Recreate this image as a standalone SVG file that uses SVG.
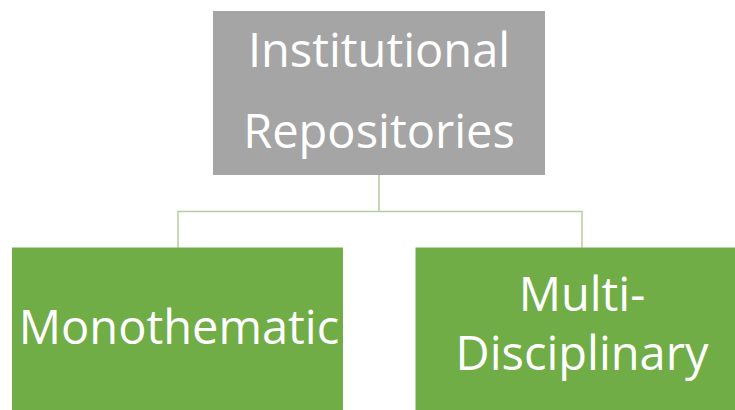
<svg xmlns="http://www.w3.org/2000/svg" width="735" height="410" viewBox="0 0 735 410">
  <style>
    .root { fill: #A5A5A5; }
    .leaf { fill: #70AD47; }
    .label { font-family: "Open Sans", "Liberation Sans", sans-serif; font-size: 47px; fill: #FFFFFF; text-anchor: middle; }
    .link { fill: none; stroke: #B4CE9F; stroke-width: 1.5; }
  </style>
  <rect width="735" height="410" fill="#FFFFFF"/>

  <!-- connectors -->
  <g id="connectors">
    <path class="link" d="M379 175 V211.5 M178 248 V211.5 H582 V248"/>
  </g>

  <!-- top node -->
  <g id="node-institutional-repositories">
    <rect class="root" x="213" y="11" width="332" height="164"/>
    <text class="label" x="379" y="67">Institutional</text>
    <text class="label" x="379" y="148">Repositories</text>
  </g>

  <!-- child nodes -->
  <g id="node-monothematic">
    <rect class="leaf" x="12" y="247.5" width="331" height="170"/>
    <text class="label" x="179" y="344">Monothematic</text>
  </g>

  <g id="node-multidisciplinary">
    <rect class="leaf" x="415.5" y="247.5" width="335" height="170"/>
    <text class="label" x="582" y="311">Multi-</text>
    <text class="label" x="582" y="370">Disciplinary</text>
  </g>
</svg>
